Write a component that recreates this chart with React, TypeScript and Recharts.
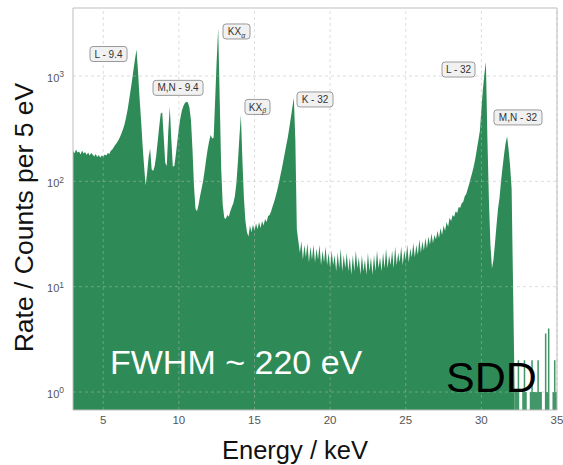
import React from 'react';
import {
  ComposedChart,
  Area,
  XAxis,
  YAxis,
  ReferenceLine,
  ReferenceDot,
  ReferenceArea,
} from 'recharts';

// Spectrum binning (keV)
const BIN_START_KEV = 3.0;
const BIN_WIDTH_KEV = 0.1;
const TAIL_START_KEV = 32.2;

// Rate per bin, one row per keV (3.0 ... 35.0 keV); null = empty bin
const RATE_PER_BIN: (number | null)[] = [
  195, 185, 200, 188, 192, 180, 196, 184, 190, 178, // 3
  188, 176, 186, 180, 172, 182, 170, 178, 168, 176, // 4
  172, 180, 176, 186, 182, 195, 200, 212, 222, 232, // 5
  245, 262, 285, 310, 345, 400, 470, 580, 720, 900, // 6
  1150, 1450, 1780, 1100, 620, 380, 220, 140, 92, 120, // 7
  170, 205, 130, 125, 140, 175, 240, 330, 440, 450, // 8
  260, 150, 140, 300, 510, 250, 138, 140, 180, 240, // 9
  320, 400, 470, 520, 555, 568, 560, 500, 380, 200, // 10
  90, 55, 52, 60, 72, 85, 100, 125, 160, 200, // 11
  240, 275, 255, 260, 600, 1400, 2850, 600, 130, 60, // 12
  45, 44, 48, 46, 52, 57, 62, 72, 95, 150, // 13
  260, 427, 160, 70, 42, 33, 30, 38, 33, 39, // 14
  34, 40, 35, 41, 36, 42, 38, 44, 41, 47, // 15
  48, 52, 58, 64, 72, 82, 95, 112, 130, 155, // 16
  185, 220, 260, 320, 400, 500, 620, 250, 35, 27, // 17
  21, 27, 18, 25, 19, 26, 17, 24, 18, 25, // 18
  17, 23, 18, 25, 16, 22, 17, 24, 16, 21, // 19
  15, 22, 16, 20, 14, 21, 15, 23, 14, 20, // 20
  15, 21, 14, 19, 13, 20, 14, 22, 15, 19, // 21
  13, 20, 14, 18, 13, 21, 14, 19, 13, 20, // 22
  14, 22, 15, 19, 14, 21, 15, 23, 15, 20, // 23
  16, 22, 15, 24, 16, 21, 17, 24, 16, 22, // 24
  18, 25, 17, 23, 19, 26, 19, 25, 20, 28, // 25
  21, 27, 22, 29, 23, 30, 25, 32, 26, 31, // 26
  28, 34, 29, 36, 31, 38, 34, 41, 37, 45, // 27
  42, 48, 46, 52, 50, 57, 56, 62, 64, 72, // 28
  76, 85, 95, 108, 122, 140, 165, 200, 245, 300, // 29
  480, 740, 1050, 1360, 250, 65, 25, 15, 18, 26, // 30
  38, 55, 70, 100, 135, 180, 230, 268, 200, 140, // 31
  85, 9, 1, 1, 2, 1, null, 1, 2, 1, // 32
  1, null, 1, 2, 1, 1, 1, 2, 1, 1, // 33
  3, null, 3.6, 1, 4, 1, null, 1, 2, 1, // 34
  1, // 35
];

const X_TICKS = [5, 10, 15, 20, 25, 30, 35];
const Y_TICKS = [1, 10, 100, 1000];

// Peak identifications
const PEAK_NAMES = ['L - 9.4', 'M,N - 9.4', 'KX|α', 'KX|β', 'K - 32', 'L - 32', 'M,N - 32'];
const PEAK_ENERGIES = [7.2, 10.5, 12.6, 14.1, 17.6, 30.3, 31.7];

// Tag box placement relative to each peak (px)
const TAG_LAYOUT = [
  { dx: -28, dy: 4.4, w: 37 },
  { dx: -8.4, dy: -14, w: 50 },
  { dx: 18.3, dy: 3.4, w: 27 },
  { dx: 16.6, dy: -8, w: 25 },
  { dx: 21.2, dy: 1.6, w: 36 },
  { dx: -27.4, dy: 7.6, w: 33 },
  { dx: 10.9, dy: -18.8, w: 48 },
];

const X_DOMAIN: [number, number] = [3, 35];
const Y_DOMAIN: [number, number] = [0.675, 4420];

const GREEN = '#2e8b57';
const FONT = '"Liberation Sans", Arial, Helvetica, sans-serif';

const spectrum = RATE_PER_BIN.map((rate, i) => {
  const energy = Math.round((BIN_START_KEV + i * BIN_WIDTH_KEV) * 100) / 100;
  return {
    energy,
    main: energy <= TAIL_START_KEV + 1e-9 ? rate : null,
    tail: energy >= TAIL_START_KEV - 1e-9 ? rate : null,
  };
});

const rateAt = (energy: number) =>
  RATE_PER_BIN[Math.round((energy - BIN_START_KEV) / BIN_WIDTH_KEV)] as number;

const LogTick = (props: any) => {
  const { x, y, payload } = props;
  const exp = Math.round(Math.log10(payload.value));
  return (
    <text x={x - 9} y={y + 5.6} textAnchor="end" fontSize={11} fill="#555" fontFamily={FONT}>
      <tspan>10</tspan>
      <tspan dy={-4.4} fontSize={8.5}>
        {exp}
      </tspan>
    </text>
  );
};

const EnergyTick = (props: any) => {
  const { x, y, payload } = props;
  return (
    <text x={x} y={y + 14} textAnchor="middle" fontSize={11.5} fill="#555" fontFamily={FONT}>
      {payload.value}
    </text>
  );
};

const PeakTag = (props: any) => {
  const { cx, cy, name, dx, dy, w } = props;
  const bx = cx + dx;
  const by = cy + dy;
  const h = 15;
  const [main, sub] = name.split('|');
  return (
    <g>
      <rect
        x={bx - w / 2}
        y={by - h / 2}
        width={w}
        height={h}
        rx={3}
        ry={3}
        fill="#f1f1f1"
        stroke="#9a9a9a"
        strokeWidth={1}
      />
      <text x={bx} y={by + 3.6} textAnchor="middle" fontSize={10} fill="#333" fontFamily={FONT}>
        <tspan>{main}</tspan>
        {sub ? (
          <tspan dy={2.5} fontSize={7} fontStyle="italic">
            {sub}
          </tspan>
        ) : null}
      </text>
    </g>
  );
};

export default function App() {
  return (
    <div style={{ position: 'absolute', left: 0, top: 0, width: 563, height: 465, background: '#fff' }}>
      <ComposedChart
        width={563}
        height={465}
        data={spectrum}
        margin={{ top: 8, right: 6, bottom: 0, left: 0 }}
      >
        <XAxis
          dataKey="energy"
          type="number"
          domain={X_DOMAIN}
          ticks={X_TICKS}
          interval={0}
          allowDataOverflow
          tickLine={false}
          axisLine={false}
          tickSize={0}
          tickMargin={0}
          height={55}
          tick={<EnergyTick />}
        />
        <YAxis
          type="number"
          scale="log"
          domain={Y_DOMAIN}
          ticks={Y_TICKS}
          interval={0}
          allowDataOverflow
          tickLine={false}
          axisLine={false}
          tickSize={0}
          tickMargin={0}
          width={73}
          tick={<LogTick />}
        />
        <Area
          type="linear"
          dataKey="main"
          stroke="none"
          fill={GREEN}
          fillOpacity={1}
          baseValue="dataMin"
          dot={false}
          activeDot={false}
          isAnimationActive={false}
        />
        <Area
          type="stepAfter"
          dataKey="tail"
          stroke="none"
          fill={GREEN}
          fillOpacity={0.9}
          baseValue="dataMin"
          dot={false}
          activeDot={false}
          isAnimationActive={false}
        />
        {X_TICKS.map((t) => (
          <ReferenceLine
            key={`vx${t}`}
            x={t}
            stroke="#b8b8b8"
            strokeOpacity={0.6}
            strokeDasharray="3 3"
            strokeWidth={0.8}
          />
        ))}
        {Y_TICKS.map((t) => (
          <ReferenceLine
            key={`hy${t}`}
            y={t}
            stroke="#b8b8b8"
            strokeOpacity={0.6}
            strokeDasharray="3 3"
            strokeWidth={0.8}
          />
        ))}
        <ReferenceArea
          x1={X_DOMAIN[0]}
          x2={X_DOMAIN[1]}
          y1={Y_DOMAIN[0]}
          y2={Y_DOMAIN[1]}
          fill="none"
          stroke="#bdbdbd"
          strokeWidth={1}
        />
        {PEAK_NAMES.map((name, i) => (
          <ReferenceDot
            key={name}
            x={PEAK_ENERGIES[i]}
            y={rateAt(PEAK_ENERGIES[i])}
            r={0}
            shape={(p: any) => <PeakTag {...p} name={name} {...TAG_LAYOUT[i]} />}
          />
        ))}
      </ComposedChart>
      <svg
        width={563}
        height={465}
        style={{ position: 'absolute', left: 0, top: 0, pointerEvents: 'none' }}
      >
        <text x={110} y={374} fontSize={34} fill="#fff" fontFamily={FONT}>
          FWHM ~ 220 eV
        </text>
        <text x={446} y={392} fontSize={43} fill="#000" fontFamily={FONT}>
          SDD
        </text>
        <text x={295} y={459} textAnchor="middle" fontSize={25.5} fill="#111" fontFamily={FONT}>
          Energy / keV
        </text>
        <text
          x={33.3}
          y={217.5}
          textAnchor="middle"
          fontSize={26.5}
          fill="#111"
          fontFamily={FONT}
          transform="rotate(-90 33.3 217.5)"
        >
          Rate / Counts per 5 eV
        </text>
      </svg>
    </div>
  );
}
